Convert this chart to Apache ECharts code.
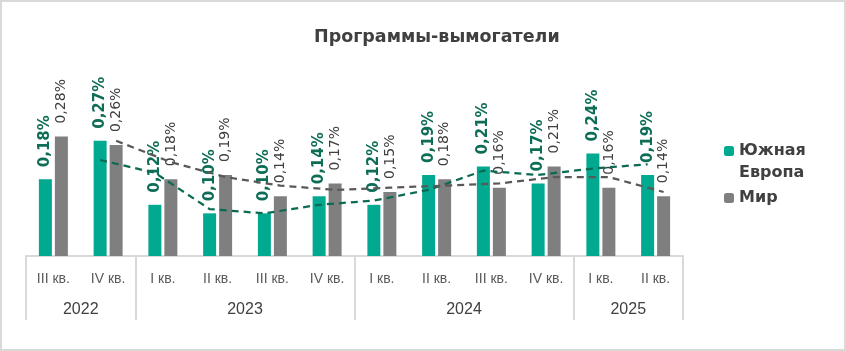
<!DOCTYPE html>
<html>
<head>
<meta charset="utf-8">
<script src="https://cdn.jsdelivr.net/npm/echarts@6/dist/echarts.min.js"></script>
<style>
  body { margin: 0; background: #fff; }
  #chart { width: 846px; height: 351px; }
  #frame { position: absolute; left: 0; top: 0; width: 846px; height: 351px; box-sizing: border-box; border: 2px solid #d9d9d9; pointer-events: none; }
</style>
</head>
<body>
<div id="chart"></div>
<div id="frame"></div>
<script>
// данные с картинки
const quarters = ['III кв.', 'IV кв.', 'I кв.', 'II кв.', 'III кв.', 'IV кв.', 'I кв.', 'II кв.', 'III кв.', 'IV кв.', 'I кв.', 'II кв.'];
// подписи годов стоят на границах кварталов
const years = ['', '2022', '', '', '2023', '', '', '', '2024', '', '', '2025', ''];
const yearStarts = [0, 2, 6, 10];
const southEurope = [0.18, 0.27, 0.12, 0.10, 0.10, 0.14, 0.12, 0.19, 0.21, 0.17, 0.24, 0.19];
const world = [0.28, 0.26, 0.18, 0.19, 0.14, 0.17, 0.15, 0.18, 0.16, 0.21, 0.16, 0.14];
// пунктирные линии тренда (скользящее среднее)
const southEuropeTrend = [null, 0.225, 0.195, 0.11, 0.10, 0.12, 0.13, 0.155, 0.20, 0.19, 0.205, 0.215];
const worldTrend = [null, 0.27, 0.22, 0.185, 0.165, 0.155, 0.16, 0.165, 0.17, 0.185, 0.185, 0.15];

const GREEN = '#00a98f', GREY = '#7f7f7f';
const barShift = 0.146; // смещение центра столбца от центра категории

const pct = v => v.toFixed(2).replace('.', ',') + '%';
const trendPoints = (arr, shift) => arr.map((v, i) => [i + shift, v]).filter(p => p[1] !== null);

const myChart = echarts.init(document.getElementById('chart'));

myChart.setOption({
    animation: false,
    title: {
        text: 'Программы-вымогатели',
        left: 309,
        top: 23,
        textStyle: { fontFamily: 'DejaVu Sans', fontWeight: 'bold', fontSize: 17.5, color: '#404040' }
    },
    legend: [
        {
            data: ['Южная Европа'],
            orient: 'vertical',
            left: 724,
            top: 118,
            padding: 0,
            itemWidth: 10,
            itemHeight: 10,
            // пустая первая строка, чтобы квадрат стоял против «Южная»
            formatter: n => ' \n' + n.replace(' ', '\n'),
            textStyle: { fontFamily: 'DejaVu Sans', fontWeight: 'bold', fontSize: 16, color: '#404040', lineHeight: 22 }
        },
        {
            data: ['Мир'],
            orient: 'vertical',
            left: 724,
            top: 187,
            padding: 0,
            itemWidth: 10,
            itemHeight: 10,
            textStyle: { fontFamily: 'DejaVu Sans', fontWeight: 'bold', fontSize: 16, color: '#404040', lineHeight: 22 }
        }
    ],
    grid: { left: 26, right: 163, top: 128, bottom: 95 },
    xAxis: [
        {
            type: 'category',
            data: quarters,
            position: 'bottom',
            axisLine: { lineStyle: { color: '#d9d9d9', width: 2 } },
            axisTick: {
                show: true,
                length: 64,
                interval: (i) => yearStarts.includes(i),
                lineStyle: { color: '#d9d9d9', width: 2 }
            },
            axisLabel: { interval: 0, margin: 16, fontFamily: 'Liberation Sans', fontSize: 14, color: '#595959' }
        },
        {
            type: 'category',
            data: years,
            position: 'bottom',
            boundaryGap: false,
            axisLine: { show: false },
            axisTick: { show: false },
            axisLabel: { interval: 0, margin: 46, fontFamily: 'Liberation Sans', fontSize: 16, color: '#404040' }
        },
        {
            type: 'value',
            position: 'top',
            show: false,
            min: -0.5,
            max: 11.5
        }
    ],
    yAxis: {
        type: 'value',
        min: 0,
        max: 0.3,
        show: false,
        splitLine: { show: false }
    },
    series: [
        {
            name: 'Южная Европа',
            type: 'bar',
            xAxisIndex: 0,
            data: southEurope,
            barWidth: 13,
            barGap: '23%',
            itemStyle: { color: GREEN },
            label: {
                show: true,
                position: 'top',
                rotate: 90,
                align: 'left',
                verticalAlign: 'middle',
                distance: 11,
                offset: [1, 0],
                formatter: p => pct(p.value),
                fontFamily: 'DejaVu Sans',
                fontWeight: 'bold',
                fontSize: 15,
                color: '#0e6d56'
            }
        },
        {
            name: 'Мир',
            type: 'bar',
            xAxisIndex: 0,
            data: world,
            barWidth: 13,
            itemStyle: { color: GREY },
            label: {
                show: true,
                position: 'top',
                rotate: 90,
                align: 'left',
                verticalAlign: 'middle',
                distance: 12,
                offset: [1, 0],
                formatter: p => pct(p.value),
                fontFamily: 'DejaVu Sans',
                fontSize: 14,
                color: '#404040'
            }
        },
        {
            name: 'тренд ЮЕ',
            type: 'line',
            xAxisIndex: 2,
            data: trendPoints(southEuropeTrend, -barShift),
            symbol: 'none',
            z: 5,
            lineStyle: { color: '#0b6b52', width: 2.25, type: [7, 5] }
        },
        {
            name: 'тренд мир',
            type: 'line',
            xAxisIndex: 2,
            data: trendPoints(worldTrend, barShift),
            symbol: 'none',
            z: 5,
            lineStyle: { color: '#595959', width: 2.25, type: [7, 5] }
        }
    ]
});

window.addEventListener('resize', () => {
    myChart.resize();
});
</script>
</body>
</html>
